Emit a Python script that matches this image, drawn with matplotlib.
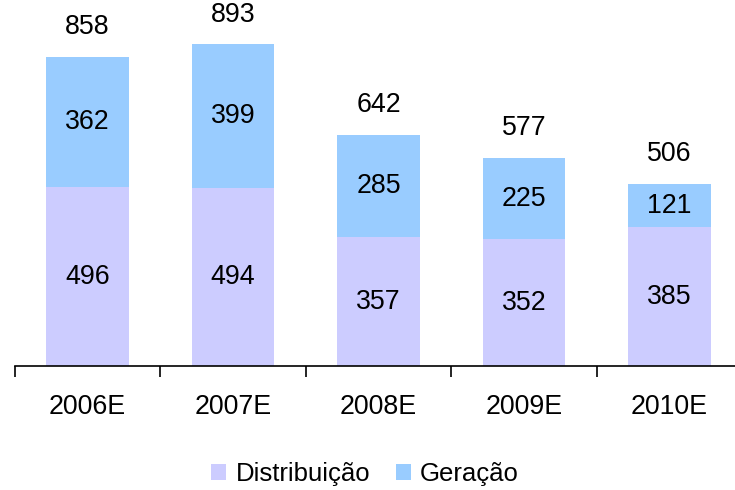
import matplotlib.pyplot as plt
import numpy as np

plt.rcParams['font.family'] = ['Liberation Sans', 'DejaVu Sans']

# Data
years = ["2006E", "2007E", "2008E", "2009E", "2010E"]
distribuicao = [496, 494, 357, 352, 385]
geracao = [362, 399, 285, 225, 121]
totals = [858, 893, 642, 577, 506]

col_dist = "#CCCCFF"
col_ger = "#99CCFF"

fig = plt.figure(figsize=(7.35, 4.9), dpi=100)
ax = fig.add_axes([14.75 / 735, 124 / 490, 727.5 / 735, 366 / 490])

x = np.arange(len(years))
w = 0.57
b1 = ax.bar(x, distribuicao, w, color=col_dist, label="Distribuição")
b2 = ax.bar(x, geracao, w, bottom=distribuicao, color=col_ger, label="Geração")

fs = 19.3
for i in range(len(years)):
    ax.text(x[i], distribuicao[i] / 2, str(distribuicao[i]), ha='center', va='center', fontsize=fs)
    ax.text(x[i], distribuicao[i] + geracao[i] / 2, str(geracao[i]), ha='center', va='center', fontsize=fs)
    ax.annotate(str(totals[i]), (x[i], distribuicao[i] + geracao[i]), xytext=(0, 12),
                textcoords='offset points', ha='center', va='bottom', fontsize=fs)

ax.set_xlim(-0.5, len(years) - 0.5)
ax.set_ylim(0, 1016)

for s in ['top', 'right', 'left']:
    ax.spines[s].set_visible(False)
ax.spines['bottom'].set_linewidth(1.2)
ax.set_yticks([])
ax.set_xticks(x)
ax.set_xticklabels(years, fontsize=fs)
ax.tick_params(axis='x', which='major', length=0, pad=20)
ax.set_xticks(np.arange(-0.5, len(years), 1), minor=True)
ax.tick_params(axis='x', which='minor', length=8, width=1.2, direction='out')

fig.legend(handles=[b1, b2], loc='center', bbox_to_anchor=(365 / 735, 1 - 474 / 490),
           ncol=2, frameon=False, fontsize=18.5, handlelength=0.6, handleheight=0.6,
           handletextpad=0.35, columnspacing=1.0)

fig.savefig("out.png", dpi=100)
